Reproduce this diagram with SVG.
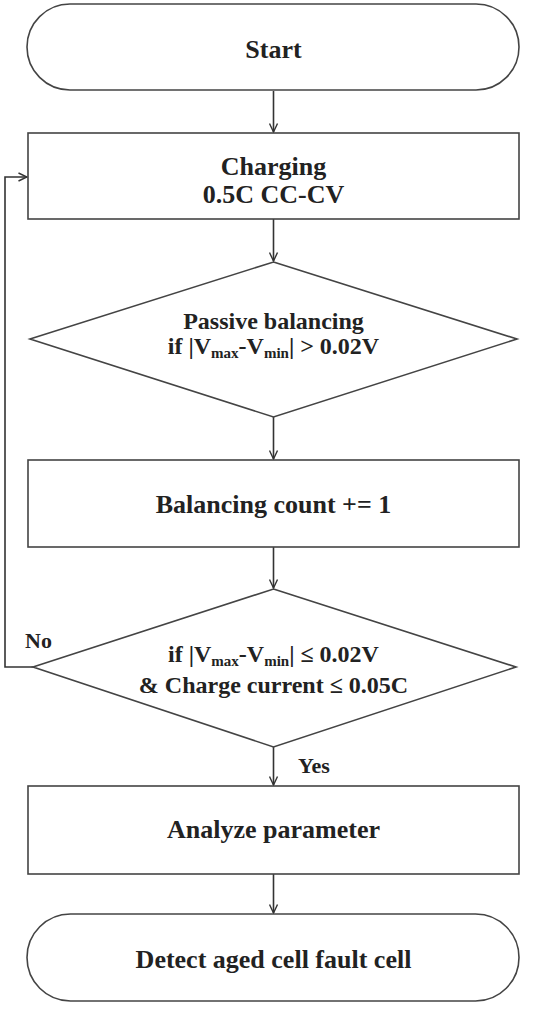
<svg xmlns="http://www.w3.org/2000/svg" width="535" height="1011" viewBox="0 0 535 1011">
<style>
.shape{fill:#fff;stroke:#444;stroke-width:1.6}
.conn{fill:none;stroke:#333;stroke-width:1.6}
text{font-family:"Liberation Serif","Times New Roman",serif;font-weight:bold;fill:#222;text-anchor:middle}
.t26{font-size:26px}
.t24{font-size:24px}
.lbl{font-size:22px;text-anchor:start}
.sub{font-size:15px}
</style>
<defs>
<marker id="arr" viewBox="0 0 10 10" refX="9.5" refY="5" markerWidth="10" markerHeight="10" markerUnits="userSpaceOnUse" orient="auto">
<path d="M1,1 L9.5,5 L1,9" fill="none" stroke="#333" stroke-width="1.4"/>
</marker>
</defs>
<rect width="535" height="1011" fill="#fff"/>
<g id="connectors">
<line class="conn" x1="273.5" y1="91" x2="273.5" y2="132" marker-end="url(#arr)"/>
<line class="conn" x1="273.5" y1="219" x2="273.5" y2="261" marker-end="url(#arr)"/>
<line class="conn" x1="273.5" y1="417" x2="273.5" y2="459" marker-end="url(#arr)"/>
<line class="conn" x1="273.5" y1="547" x2="273.5" y2="588" marker-end="url(#arr)"/>
<line class="conn" x1="273.5" y1="747" x2="273.5" y2="785" marker-end="url(#arr)"/>
<line class="conn" x1="273.5" y1="874" x2="273.5" y2="913" marker-end="url(#arr)"/>
<polyline class="conn" points="33,667 5,667 5,177 27,177" marker-end="url(#arr)"/>
<text class="lbl" x="25" y="648">No</text>
<text class="lbl" x="298" y="773">Yes</text>
</g>
<g id="start">
<rect class="shape" x="27" y="4" width="492" height="86" rx="43" ry="43"/>
<text class="t26" x="273.5" y="58">Start</text>
</g>
<g id="charging">
<rect class="shape" x="28" y="133" width="491" height="86"/>
<text class="t26" x="273.5" y="175">Charging</text>
<text class="t26" x="273.5" y="203">0.5C CC-CV</text>
</g>
<g id="passive">
<polygon class="shape" points="273.5,262 517,339 273.5,417 30,339"/>
<text class="t24" x="273.5" y="329">Passive balancing</text>
<text class="t24" x="273.5" y="354">if |V<tspan class="sub" dy="4">max</tspan><tspan dy="-4">-V</tspan><tspan class="sub" dy="4">min</tspan><tspan dy="-4">| &gt; 0.02V</tspan></text>
</g>
<g id="count">
<rect class="shape" x="28" y="460" width="491" height="87"/>
<text class="t26" x="273.5" y="513">Balancing count += 1</text>
</g>
<g id="check">
<polygon class="shape" points="273.5,589 516,667 273.5,747 33,667"/>
<text class="t24" x="273.5" y="662">if |V<tspan class="sub" dy="4">max</tspan><tspan dy="-4">-V</tspan><tspan class="sub" dy="4">min</tspan><tspan dy="-4">| ≤ 0.02V</tspan></text>
<text class="t24" x="273.5" y="693">&amp; Charge current ≤ 0.05C</text>
</g>
<g id="analyze">
<rect class="shape" x="28" y="786" width="491" height="88"/>
<text class="t26" x="273.5" y="838">Analyze parameter</text>
</g>
<g id="detect">
<rect class="shape" x="27" y="914" width="492" height="87" rx="43.5" ry="43.5"/>
<text class="t26" x="273.5" y="968">Detect aged cell fault cell</text>
</g>
</svg>
